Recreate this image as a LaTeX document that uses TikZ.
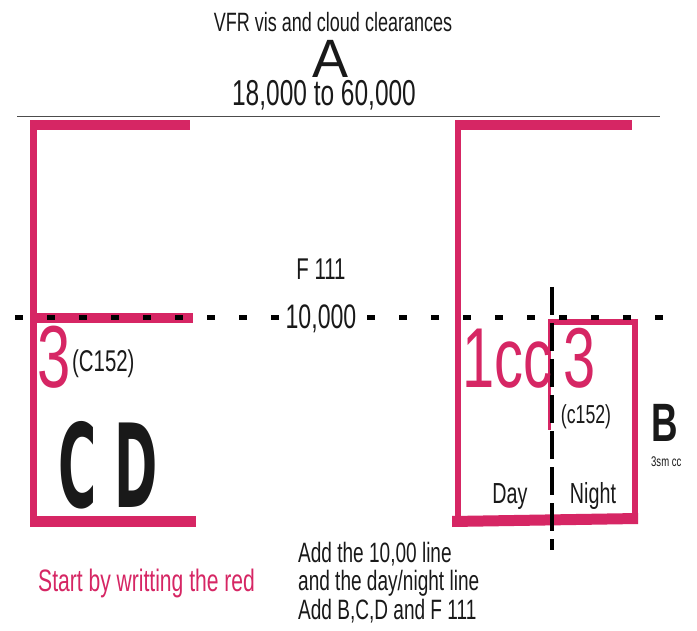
\documentclass[tikz,border=0pt]{standalone}
\usepackage{fontspec}
\setmainfont{Liberation Sans}
\newfontfamily\cnd{Liberation Sans}[FakeStretch=0.68]
\newfontfamily\cdfont{DejaVu Sans}[FakeStretch=0.45]
\usetikzlibrary{positioning}
\definecolor{vfrred}{RGB}{214,38,100}
\newcommand{\fz}[1]{\fontsize{#1}{#1}\selectfont}

\begin{document}
\begin{tikzpicture}[x=1pt, y=-1pt,
  txt/.style={inner sep=0pt, text=black!90},
  big/.style={txt, text=vfrred},
  bar/.style={fill=vfrred},
  dots/.style={line width=5pt, dash pattern=on 8pt off 24pt},
  dashes/.style={line width=4pt, dash pattern=on 28pt off 8pt}]
\useasboundingbox[fill=white] (0,0) rectangle (697,631);

% heading
\node[txt, anchor=base, font=\cnd\fz{26.5}] (title) at (333,32) {VFR vis and cloud clearances};
\node[txt, anchor=base, font=\fz{54}] (labA) at (331,78) {A};
\node[txt, anchor=base, font=\cnd\fz{36}] (alt) at (324,106) {18,000 to 60,000};
\draw[line width=1pt, black!70] (17,117) -- (660,117);

% red brackets
\fill[bar] (30,120) rectangle (37,527);
\fill[bar] (30,120) rectangle (190,130);
\fill[bar] (30,516) rectangle (196,527);
\fill[bar] (37,313) rectangle (193,323);
\fill[bar] (455,120) rectangle (461,526);
\fill[bar] (455,120) rectangle (632,130);
\fill[bar] (452,516) -- (638,513) -- (638,524) -- (452,527) -- cycle;
\fill[bar] (548,319) rectangle (638,325);
\fill[bar] (632,319) rectangle (638,516);
\fill[bar] (548,319) rectangle (551,430);

% 10,000 and day/night lines
\draw[dots] (15,318) -- (663,318);
\draw[dashes] (552,287) -- (552,550);
\node[txt, anchor=base, font=\cnd\fz{30}] (f111) at (321,280) {F 111};
\node[txt, anchor=base, font=\cnd\fz{34}, fill=white] (tenk) at (321,329) {10,000};

% left column
\node[big, anchor=base west, font=\cnd\fz{88}] (threeL) at (37,388) {3};
\node[txt, anchor=base west, font=\cnd\fz{30}] (c152L) at (72,372) {(C152)};
\node[txt, anchor=base, font=\cdfont\bfseries\fz{116}] (cdL) at (108,507) {C D};

% right column
\node[big, anchor=base west, font=\cnd\fz{85}] (onecc) at (462,388) {1cc};
\node[big, anchor=base west, font=\cnd\fz{85}] (threeR) at (563,388) {3};
\node[txt, anchor=base, font=\cnd\fz{26}] (c152R) at (586,424) {(c152)};
\node[txt, anchor=base, font=\cnd\bfseries\fz{54}] (labB) at (665,442) {B};
\node[txt, anchor=base west, font=\cnd\fz{14}] (smcc) at (651,466) {3sm cc};
\node[txt, anchor=base, font=\cnd\fz{29}] (day) at (510,503) {Day};
\node[txt, anchor=base, font=\cnd\fz{29}] (night) at (593,503) {Night};

% notes
\node[big, anchor=base west, font=\cnd\fz{31}] (note) at (38,591) {Start by writting the red};
\node[txt, anchor=north west, align=left, font=\cnd\fontsize{28}{28.5}\selectfont] (steps) at (298,542)
  {Add the 10,00 line\\and the day/night line\\Add B,C,D and F 111};
\end{tikzpicture}
\end{document}
